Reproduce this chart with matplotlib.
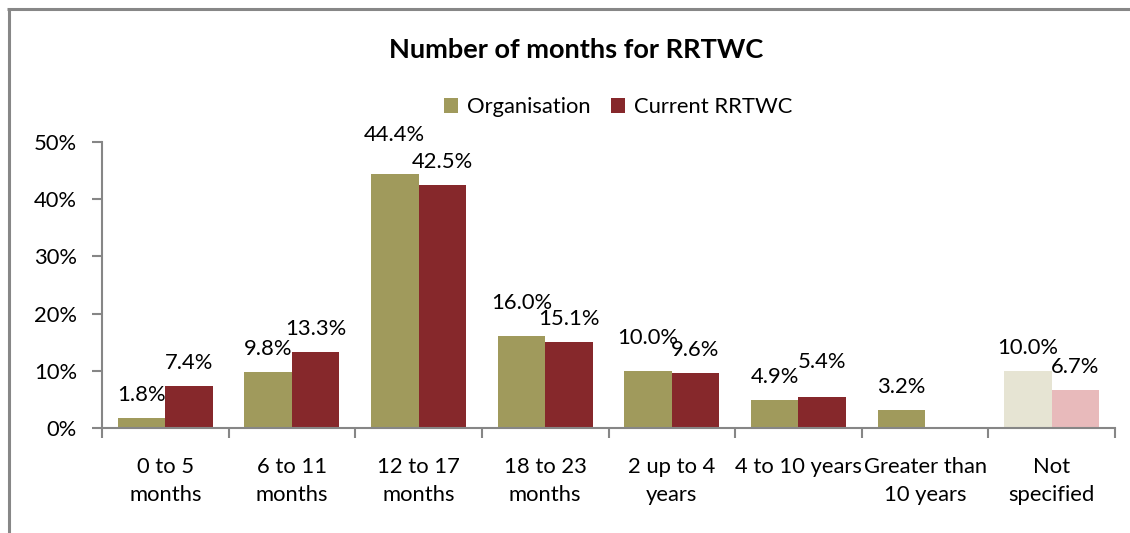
import matplotlib
matplotlib.use("Agg")
import matplotlib.pyplot as plt
from matplotlib.lines import Line2D
from matplotlib.patches import Patch
import numpy as np

plt.rcParams['font.family'] = ['Lato', 'DejaVu Sans']

categories = ["0 to 5\nmonths", "6 to 11\nmonths", "12 to 17\nmonths", "18 to 23\nmonths",
              "2 up to 4\nyears", "4 to 10 years", "Greater than\n10 years", "Not\nspecified"]
organisation = [1.8, 9.8, 44.4, 16.0, 10.0, 4.9, 3.2, 10.0]
current = [7.4, 13.3, 42.5, 15.1, 9.6, 5.4, None, 6.7]
series_names = ["Organisation", "Current RRTWC"]
title = "Number of months for RRTWC"
yticks = [0, 10, 20, 30, 40, 50]

# styling
org_colors = ["#A09A5C"] * 7 + ["#E6E4D3"]
cur_colors = ["#86282B"] * 7 + ["#E8BABB"]
org_extra_px = [0, 0, 16, 10, 10, 0, 0, 0]
cur_extra_px = [0, 0, 0, 0, 0, 12, 0, 0]

W, H = 1130, 533
fig = plt.figure(figsize=(W / 100, H / 100), dpi=100)
ax = fig.add_axes([102 / W, 1 - 428 / H, (1115 - 102) / W, (428 - 142) / H])

x = np.arange(len(categories))
bw = 0.375
axis_gray = "#868686"
fs = 15.8

for i in range(len(categories)):
    ax.bar(x[i] - bw / 2, organisation[i], bw, color=org_colors[i], linewidth=0)
    if current[i] is not None:
        ax.bar(x[i] + bw / 2, current[i], bw, color=cur_colors[i], linewidth=0)

px2pt = 0.72
base_gap = 17.0
for i in range(len(categories)):
    ax.annotate(f"{organisation[i]:.1f}%", (x[i] - bw / 2, organisation[i]),
                xytext=(0, (base_gap + org_extra_px[i]) * px2pt), textcoords="offset points",
                ha="center", va="baseline", fontsize=fs, color="#000000")
    if current[i] is not None:
        ax.annotate(f"{current[i]:.1f}%", (x[i] + bw / 2, current[i]),
                    xytext=(0, (base_gap + cur_extra_px[i]) * px2pt), textcoords="offset points",
                    ha="center", va="baseline", fontsize=fs, color="#000000")

ax.set_xlim(-0.5, len(categories) - 0.5)
ax.set_ylim(0, 50)
ax.set_yticks(yticks)
ax.set_yticklabels([f"{t}%" for t in yticks], fontsize=fs)
ax.set_xticks(x)
ax.set_xticklabels(categories, fontsize=fs, linespacing=1.5)
ax.set_xticks(np.arange(-0.5, len(categories), 1.0), minor=True)
ax.tick_params(axis="x", which="major", length=0, pad=21)
ax.tick_params(axis="x", which="minor", length=7, color=axis_gray, width=1.5)
ax.tick_params(axis="y", length=7, color=axis_gray, width=1.5, pad=11)

for s in ["top", "right"]:
    ax.spines[s].set_visible(False)
for s in ["left", "bottom"]:
    ax.spines[s].set_color(axis_gray)
    ax.spines[s].set_linewidth(1.5)

fig.text(576 / W, 1 - 50 / H, title, ha="center", va="center", fontsize=19.5, fontweight="bold")

handles = [Patch(facecolor=org_colors[0]), Patch(facecolor=cur_colors[0])]
fig.legend(handles, series_names, loc="center", bbox_to_anchor=(618 / W, 1 - 107 / H),
           ncol=2, frameon=False, fontsize=fs, handlelength=0.65, handleheight=0.65,
           handletextpad=0.4, columnspacing=0.9, borderpad=0)

frame_c = "#878787"
fig.add_artist(Line2D([8.5 / W, 8.5 / W], [0, 1 - 9 / H], color=frame_c, linewidth=2.2,
                      transform=fig.transFigure, solid_capstyle="butt"))
fig.add_artist(Line2D([7.4 / W, 1.0], [1 - 9 / H, 1 - 9 / H], color=frame_c, linewidth=2.2,
                      transform=fig.transFigure, solid_capstyle="butt"))

fig.savefig("out.png", dpi=100)
